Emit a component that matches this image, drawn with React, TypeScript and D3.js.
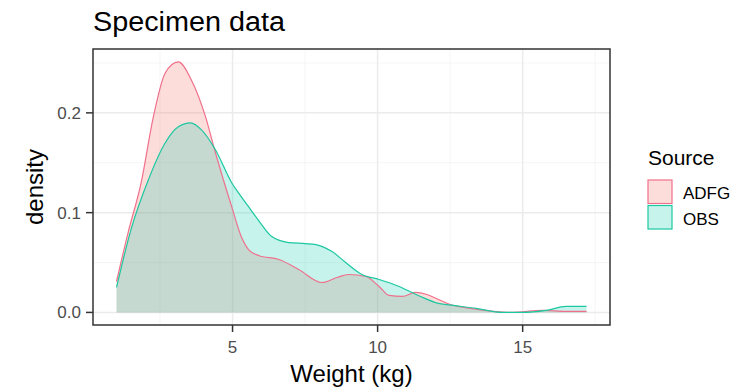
import React from "react";
import * as d3 from "d3";

const seriesNames = ["ADFG", "OBS"];
const strokeColors = ["#F0708C", "#1CC8A0"];
const fillColors = ["#F8766D", "#1FCFB8"];

const adfgX = [1.0, 1.4, 1.85, 2.27, 2.68, 3.13, 3.58, 4.07, 4.41, 4.97, 5.3, 5.55, 5.9, 6.6, 7.28, 8.08, 8.6, 9.0, 9.6, 10.05, 10.4, 10.85, 11.3, 11.7, 12.1, 12.5, 13.2, 14.0, 14.6, 15.7, 16.5, 17.2];
const adfgY = [0.031, 0.08, 0.13, 0.196, 0.24, 0.251, 0.233, 0.196, 0.16, 0.106, 0.076, 0.063, 0.057, 0.053, 0.043, 0.03, 0.035, 0.038, 0.036, 0.026, 0.017, 0.016, 0.02, 0.018, 0.013, 0.008, 0.004, 0.001, 0.0, 0.002, 0.001, 0.001];

const obsX = [1.0, 1.5, 2.1, 2.68, 3.13, 3.55, 3.93, 4.41, 4.97, 5.2, 5.55, 5.9, 6.35, 6.94, 7.5, 7.87, 8.43, 8.9, 9.46, 10.05, 10.74, 11.4, 12.1, 12.6, 13.4, 14.3, 15.0, 15.8, 16.5, 17.2];
const obsY = [0.025, 0.083, 0.133, 0.17, 0.186, 0.19, 0.183, 0.163, 0.13, 0.12, 0.106, 0.092, 0.076, 0.07, 0.069, 0.068, 0.061, 0.05, 0.038, 0.033, 0.026, 0.017, 0.009, 0.007, 0.004, 0.0, 0.0, 0.002, 0.006, 0.006];

const xMajor = [5, 10, 15];
const xMinor = [2.5, 7.5, 12.5, 17.5];
const yMajor = [0, 0.1, 0.2];
const yMinor = [0.05, 0.15, 0.25];
const yTickLabels = ["0.0", "0.1", "0.2"];

const W = 735;
const H = 387;
const PL = 93, PR = 610, PT = 49, PB = 325;

export default function App() {
  const x = d3.scaleLinear().domain([0.19, 18.01]).range([PL, PR]);
  const y = d3.scaleLinear().domain([-0.0126, 0.264]).range([PB, PT]);

  const series = [
    adfgX.map((v, i) => [v, adfgY[i]] as [number, number]),
    obsX.map((v, i) => [v, obsY[i]] as [number, number]),
  ];

  const area = d3
    .area<[number, number]>()
    .x((d) => x(d[0]))
    .y0(y(0))
    .y1((d) => y(d[1]))
    .curve(d3.curveMonotoneX);
  const line = d3
    .line<[number, number]>()
    .x((d) => x(d[0]))
    .y((d) => y(d[1]))
    .curve(d3.curveMonotoneX);

  const font = "'Liberation Sans', Arial, sans-serif";

  return (
    <svg
      width={W}
      height={H}
      style={{ position: "absolute", left: 0, top: 0, background: "#fff" }}
      fontFamily={font}
    >
      <rect x={0} y={0} width={W} height={H} fill="#fff" />
      <defs>
        <clipPath id="panel">
          <rect x={PL} y={PT} width={PR - PL} height={PB - PT} />
        </clipPath>
      </defs>
      <g clipPath="url(#panel)">
        {xMinor.map((v) => (
          <line key={"xm" + v} x1={x(v)} x2={x(v)} y1={PT} y2={PB} stroke="#f2f2f2" strokeWidth={0.8} />
        ))}
        {yMinor.map((v) => (
          <line key={"ym" + v} x1={PL} x2={PR} y1={y(v)} y2={y(v)} stroke="#f2f2f2" strokeWidth={0.8} />
        ))}
        {xMajor.map((v) => (
          <line key={"xM" + v} x1={x(v)} x2={x(v)} y1={PT} y2={PB} stroke="#ebebeb" strokeWidth={1.5} />
        ))}
        {yMajor.map((v) => (
          <line key={"yM" + v} x1={PL} x2={PR} y1={y(v)} y2={y(v)} stroke="#ebebeb" strokeWidth={1.5} />
        ))}
        {series.map((s, i) => (
          <path key={"a" + i} d={area(s) || ""} fill={fillColors[i]} fillOpacity={0.25} />
        ))}
        {series.map((s, i) => (
          <path key={"l" + i} d={line(s) || ""} fill="none" stroke={strokeColors[i]} strokeWidth={1.2} />
        ))}
      </g>
      <rect x={PL} y={PT} width={PR - PL} height={PB - PT} fill="none" stroke="#333" strokeWidth={1.5} />

      {xMajor.map((v) => (
        <g key={"xt" + v}>
          <line x1={x(v)} x2={x(v)} y1={PB} y2={PB + 7} stroke="#333" strokeWidth={1.5} />
          <text x={x(v)} y={353} textAnchor="middle" fontSize={17} fill="#4d4d4d">
            {v}
          </text>
        </g>
      ))}
      {yMajor.map((v, i) => (
        <g key={"yt" + v}>
          <line x1={PL - 7} x2={PL} y1={y(v)} y2={y(v)} stroke="#333" strokeWidth={1.5} />
          <text x={81} y={y(v) + 6} textAnchor="end" fontSize={17} fill="#4d4d4d">
            {yTickLabels[i]}
          </text>
        </g>
      ))}

      <text x={(PL + PR) / 2} y={382} textAnchor="middle" fontSize={24} fill="#000">
        Weight (kg)
      </text>
      <text
        transform={`translate(43, ${(PT + PB) / 2}) rotate(-90)`}
        textAnchor="middle"
        fontSize={24}
        fill="#000"
      >
        density
      </text>
      <text x={93} y={31} fontSize={27} fill="#000" textLength={192} lengthAdjust="spacingAndGlyphs">
        Specimen data
      </text>

      <text x={648} y={165} fontSize={21} fill="#000">
        Source
      </text>
      {seriesNames.map((n, i) => (
        <g key={"lg" + n}>
          <rect x={647} y={179 + i * 25.5} width={26} height={25.5} fill="#fff" />
          <rect
            x={648}
            y={180 + i * 25.5}
            width={24}
            height={23.5}
            fill={fillColors[i]}
            fillOpacity={0.25}
            stroke={strokeColors[i]}
            strokeWidth={1.2}
          />
          <text x={683} y={199 + i * 26} fontSize={17} fill="#000">
            {n}
          </text>
        </g>
      ))}
    </svg>
  );
}
